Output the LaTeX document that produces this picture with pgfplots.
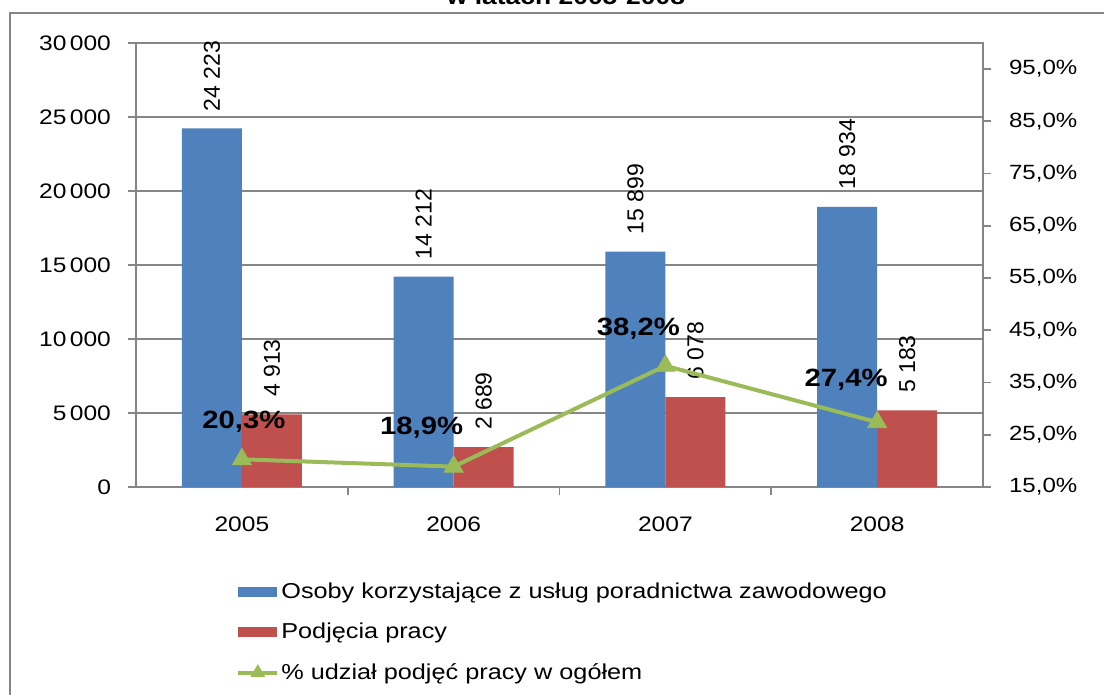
\documentclass[border=0pt]{standalone}
\usepackage{pgfplots}
\pgfplotsset{compat=1.18}
\usepackage{fontspec}
\setmainfont{Liberation Sans}[FakeStretch=1.17]
\newfontfamily\plainfont{Liberation Sans}
\definecolor{cblue}{HTML}{4F81BD}
\definecolor{cred}{HTML}{C0504D}
\definecolor{cgreen}{HTML}{9BBB59}
\definecolor{axgray}{HTML}{868686}
\begin{document}
\begin{tikzpicture}
\useasboundingbox (0,0) rectangle (552pt,347.5pt);
\draw[axgray, line width=0.9pt] (5pt,-20pt) rectangle (580pt,341pt);
\node[font=\bfseries\fontsize{11.3}{13}\selectfont, anchor=base] at (283pt,345pt) {w latach 2005-2008};
\begin{axis}[
  at={(68pt,104pt)}, anchor=south west,
  scale only axis, width=423.5pt, height=222pt,
  clip=false,
  xmin=-0.5, xmax=3.5, ymin=0, ymax=30000,
  ybar=0pt, bar width=30pt,
  xtick={0.5,1.5,2.5}, xticklabels={},
  extra x ticks={0,1,2,3},
  extra x tick labels={2005,2006,2007,2008},
  extra x tick style={major tick length=0pt, grid=none,
    xticklabel style={yshift=-11.5pt}},
  scaled y ticks=false,
  ytick={0,5000,...,30000},
  yticklabels={0,{5\,000},{10\,000},{15\,000},{20\,000},{25\,000},{30\,000}},
  yticklabel style={xshift=-5pt},
  ymajorgrids,
  grid style={axgray, line width=0.9pt},
  axis line style={axgray, line width=0.9pt},
  tick style={axgray, line width=0.9pt},
  major tick length=4pt,
  tick align=outside,
  ytick pos=left, xtick pos=bottom,
  tick label style={font=\fontsize{10.5}{12}\selectfont},
  /pgf/number format/assume math mode=true,
  legend style={
    at={(0.118,-0.21)}, anchor=north west,
    draw=none, fill=none,
    font=\fontsize{10.8}{12}\selectfont,
    row sep=8.8pt, inner sep=0pt,
    nodes={inner sep=1pt},
  },
  legend cell align=left,
]
\addplot[fill=cblue, draw=none,
  nodes near coords={\pgfmathprintnumber[1000 sep={\ }]{\pgfplotspointmeta}},
  every node near coord/.append style={rotate=90, anchor=west, inner xsep=8.5pt,
    font=\plainfont\fontsize{11.5}{13}\selectfont, black},
  legend image code/.code={\fill[cblue] (0pt,-2.5pt) rectangle (19.5pt,2.5pt);}]
  coordinates {(0,24223) (1,14212) (2,15899) (3,18934)};
\addplot[fill=cred, draw=none,
  nodes near coords={\pgfmathprintnumber[1000 sep={\ }]{\pgfplotspointmeta}},
  every node near coord/.append style={rotate=90, anchor=west, inner xsep=8.5pt,
    font=\plainfont\fontsize{11.5}{13}\selectfont, black},
  legend image code/.code={\fill[cred] (0pt,-2.5pt) rectangle (19.5pt,2.5pt);}]
  coordinates {(0,4913) (1,2689) (2,6078) (3,5183)};
\addlegendimage{legend image code/.code={\draw[cgreen, line width=2pt] (0pt,0pt) -- (19.5pt,0pt);
  \begin{scope}[shift={(9.75pt,0pt)}]\pgfsetfillcolor{cgreen}\pgfsetstrokecolor{cgreen}\pgfsetlinewidth{0.4pt}\pgfsetplotmarksize{3.8pt}\pgfuseplotmark{triangle*}\end{scope}}}
\legend{Osoby korzystające z usług poradnictwa zawodowego, Podjęcia pracy, \% udział podjęć pracy w ogółem}
\end{axis}
\begin{axis}[
  at={(68pt,104pt)}, anchor=south west,
  scale only axis, width=423.5pt, height=222pt,
  clip=false,
  xmin=-0.5, xmax=3.5, ymin=15, ymax=100,
  axis x line=none, axis y line*=right,
  ytick={15,25,...,95},
  yticklabels={{15,0\%},{25,0\%},{35,0\%},{45,0\%},{55,0\%},{65,0\%},{75,0\%},{85,0\%},{95,0\%}},
  yticklabel style={xshift=5.5pt},
  axis line style={axgray, line width=0.9pt, -},
  tick style={axgray, line width=0.9pt},
  major tick length=4pt,
  tick align=outside,
  tick label style={font=\fontsize{10.3}{12}\selectfont},
  /pgf/number format/assume math mode=true,
]
\addplot[cgreen, line width=2pt, mark=triangle*, mark size=5.5pt,
  mark options={solid, line width=0.4pt}]
  coordinates {(0,20.3) (1,18.9) (2,38.2) (3,27.4)};
\tikzset{pct/.style={font=\bfseries\fontsize{12.5}{14}\selectfont, black}}
\node[pct, xshift=1pt, yshift=19pt] at (axis cs:0,20.3) {20,3\%};
\node[pct, xshift=-16pt, yshift=19.5pt] at (axis cs:1,18.9) {18,9\%};
\node[pct, xshift=-13.5pt, yshift=18.5pt] at (axis cs:2,38.2) {38,2\%};
\node[pct, xshift=-15.5pt, yshift=21.5pt] at (axis cs:3,27.4) {27,4\%};
\end{axis}
\end{tikzpicture}
\end{document}
